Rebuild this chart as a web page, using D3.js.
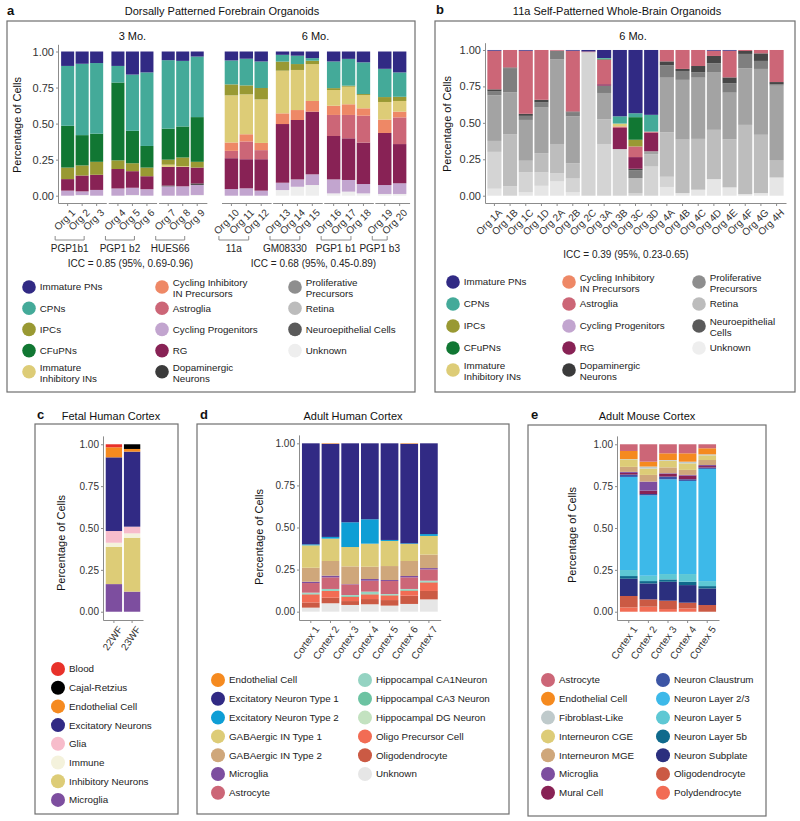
<!DOCTYPE html>
<html>
<head>
<meta charset="utf-8">
<script src="https://cdn.jsdelivr.net/npm/d3@7"></script>
<style>
  body { margin: 0; background: #fff; }
  svg { font-family: "Liberation Sans", Arial, Helvetica, sans-serif; }
</style>
</head>
<body>
<svg width="800" height="821"></svg>
<script>
// ---------- panel a : dorsally patterned forebrain organoids ----------
var aBars = ["Org 1", "Org 2", "Org 3", "Org 4", "Org 5", "Org 6", "Org 7", "Org 8", "Org 9", "Org 10",
  "Org 11", "Org 12", "Org 13", "Org 14", "Org 15", "Org 16", "Org 17", "Org 18", "Org 19", "Org 20"];
var aGroups = ["PGP1b1", "PGP1 b2", "HUES66", "11a", "GM08330", "PGP1 b1", "PGP1 b3"];
var aGroupSizes = [3, 3, 3, 3, 3, 3, 2];
var aFacets = ["3 Mo.", "6 Mo."];
var aFacetGroups = [3, 4];
var aIcc = ["ICC = 0.85 (95%, 0.69-0.96)", "ICC = 0.68 (95%, 0.45-0.89)"];
// stack order, top to bottom
var aSeries = ["Immature PNs", "CPNs", "CFuPNs", "IPCs", "Immature Inhibitory INs", "Cycling Inhibitory IN Precursors",
  "Astroglia", "RG", "Dopaminergic Neurons", "Cycling Progenitors", "Unknown"];
var aValues = [
  [0.100, 0.415, 0.290, 0.080, 0, 0, 0, 0.080, 0, 0.035, 0],
  [0.085, 0.495, 0.210, 0.070, 0, 0, 0, 0.110, 0, 0.025, 0.005],
  [0.080, 0.490, 0.195, 0.090, 0, 0, 0, 0.105, 0, 0.040, 0],
  [0.100, 0.115, 0.540, 0.060, 0, 0, 0, 0.135, 0, 0.050, 0],
  [0.160, 0.390, 0.225, 0.055, 0, 0, 0, 0.115, 0, 0.050, 0.005],
  [0.145, 0.510, 0.150, 0.060, 0, 0, 0, 0.090, 0, 0.045, 0],
  [0.060, 0.475, 0.215, 0.035, 0.015, 0, 0, 0.130, 0.005, 0.065, 0],
  [0.065, 0.455, 0.215, 0.060, 0.005, 0, 0, 0.135, 0, 0.065, 0],
  [0.035, 0.420, 0.310, 0.040, 0, 0, 0, 0.110, 0.010, 0.070, 0.005],
  [0.062, 0.166, 0, 0.076, 0.327, 0.058, 0.051, 0.214, 0, 0.046, 0],
  [0.050, 0.185, 0, 0.062, 0.277, 0.050, 0.123, 0.202, 0, 0.051, 0],
  [0.069, 0.184, 0, 0.079, 0.302, 0.050, 0.063, 0.218, 0, 0.035, 0],
  [0.023, 0.047, 0, 0.063, 0.296, 0.074, 0, 0.407, 0, 0.051, 0.039],
  [0.029, 0.058, 0, 0.041, 0.278, 0.069, 0, 0.412, 0, 0.051, 0.062],
  [0.046, 0.018, 0, 0.023, 0.256, 0.074, 0, 0.435, 0, 0.074, 0.074],
  [0.069, 0.185, 0, 0.013, 0.109, 0.064, 0.146, 0.301, 0, 0.097, 0.016],
  [0.051, 0.186, 0, 0.007, 0.122, 0.074, 0.162, 0.289, 0, 0.081, 0.028],
  [0.075, 0.220, 0, 0.007, 0.092, 0.051, 0.187, 0.287, 0, 0.065, 0.016],
  [0.120, 0.196, 0, 0.034, 0.122, 0.093, 0, 0.361, 0, 0.062, 0.012],
  [0.145, 0.169, 0, 0.029, 0.074, 0.040, 0.185, 0.272, 0, 0.074, 0.012]
];
// legend shared by a and b
var orgNames = ["Immature PNs", "CPNs", "IPCs", "CFuPNs", "Immature Inhibitory INs", "Cycling Inhibitory IN Precursors",
  "Astroglia", "Cycling Progenitors", "RG", "Dopaminergic Neurons", "Proliferative Precursors", "Retina",
  "Neuroepithelial Cells", "Unknown"];
var orgColors = ["#312a84", "#44aa99", "#999933", "#117733", "#ddcc77", "#ee8866", "#cc6677", "#c2a5cf",
  "#882255", "#3b3b3b", "#8e8e8e", "#bcbcbc", "#5a5a5a", "#eeeeee"];
var aLegendLabels = ["Immature PNs", "CPNs", "IPCs", "CFuPNs", "Immature|Inhibitory INs", "Cycling Inhibitory|IN Precursors",
  "Astroglia", "Cycling Progenitors", "RG", "Dopaminergic|Neurons", "Proliferative|Precursors", "Retina",
  "Neuroepithelial Cells", "Unknown"];
var bLegendLabels = ["Immature PNs", "CPNs", "IPCs", "CFuPNs", "Immature|Inhibitory INs", "Cycling Inhibitory|IN Precursors",
  "Astroglia", "Cycling Progenitors", "RG", "Dopaminergic|Neurons", "Proliferative|Precursors", "Retina",
  "Neuroepithelial|Cells", "Unknown"];

// ---------- panel b : 11a self-patterned whole-brain organoids ----------
var bBars = ["Org 1A", "Org 1B", "Org 1C", "Org 1D", "Org 2A", "Org 2B", "Org 2C", "Org 3A", "Org 3B",
  "Org 3C", "Org 3D", "Org 4A", "Org 4B", "Org 4C", "Org 4D", "Org 4E", "Org 4F", "Org 4G", "Org 4H"];
var bSeries = ["Immature PNs", "CPNs", "CFuPNs", "IPCs", "Immature Inhibitory INs", "Astroglia", "RG",
  "Grey 1", "Grey 2", "Grey 3", "Grey 4", "Grey 5", "Grey 6"];
var bColors = ["#312a84", "#44aa99", "#117733", "#999933", "#ddcc77", "#cc6677", "#882255",
  "#474747", "#7f7f7f", "#a3a3a3", "#bdbdbd", "#d4d4d4", "#e6e6e6"];
var bValues = [
  [0.005, 0, 0, 0, 0, 0.265, 0, 0.012, 0.029, 0.313, 0.075, 0.253, 0.048],
  [0, 0, 0, 0, 0, 0.120, 0, 0.005, 0.165, 0.290, 0.355, 0.065, 0],
  [0.005, 0, 0, 0, 0, 0.433, 0, 0.014, 0.028, 0.280, 0.080, 0.137, 0.023],
  [0, 0, 0, 0, 0, 0.342, 0, 0.018, 0.035, 0.313, 0.132, 0.092, 0.068],
  [0, 0, 0, 0, 0, 0.005, 0, 0, 0.060, 0.580, 0.200, 0.057, 0.098],
  [0.005, 0, 0, 0, 0, 0.417, 0, 0.006, 0.027, 0.323, 0.104, 0.093, 0.025],
  [0.010, 0, 0, 0, 0, 0.005, 0, 0, 0, 0, 0, 0.985, 0],
  [0.055, 0.005, 0.005, 0, 0, 0.170, 0.010, 0, 0.050, 0.180, 0.170, 0.355, 0],
  [0.455, 0.050, 0, 0, 0.020, 0.010, 0.145, 0, 0, 0, 0, 0.320, 0],
  [0.434, 0.027, 0.155, 0.046, 0, 0.073, 0.080, 0.011, 0.053, 0, 0.103, 0.018, 0],
  [0.445, 0.115, 0, 0, 0, 0.008, 0.127, 0, 0, 0.020, 0.085, 0.200, 0],
  [0, 0, 0, 0, 0, 0.078, 0, 0.027, 0.085, 0.375, 0.305, 0.070, 0.060],
  [0, 0, 0, 0, 0, 0.130, 0, 0.014, 0.061, 0.410, 0.367, 0, 0.018],
  [0, 0, 0, 0, 0, 0.110, 0, 0.043, 0.037, 0.420, 0.349, 0, 0.041],
  [0.005, 0, 0, 0, 0, 0.036, 0, 0.050, 0.064, 0.393, 0.338, 0, 0.114],
  [0.005, 0, 0, 0, 0, 0.183, 0, 0.041, 0.064, 0.320, 0.330, 0, 0.057],
  [0, 0, 0, 0, 0, 0.007, 0, 0.020, 0.099, 0.388, 0.475, 0, 0.011],
  [0, 0, 0, 0, 0, 0.023, 0, 0.052, 0.055, 0.452, 0.400, 0, 0.018],
  [0, 0, 0, 0, 0, 0.220, 0, 0.015, 0.010, 0.510, 0.120, 0, 0.125]
];
var bIcc = "ICC = 0.39 (95%, 0.23-0.65)";

// ---------- panel c : fetal human cortex ----------
var cBars = ["22WF", "23WF"];
var cSeries = ["Blood", "Cajal-Retzius", "Endothelial Cell", "Excitatory Neurons", "Glia", "Immune",
  "Inhibitory Neurons", "Microglia"];
var cColors = ["#e8312a", "#000000", "#f58a1f", "#312a84", "#f7bccb", "#f4f2dc", "#ddcc77", "#7d4e9f"];
var cValues = [
  [0.018, 0, 0.060, 0.440, 0.070, 0.024, 0.223, 0.165],
  [0, 0.028, 0.016, 0.448, 0.040, 0.026, 0.322, 0.120]
];

// ---------- panel d : adult human cortex ----------
var dBars = ["Cortex 1", "Cortex 2", "Cortex 3", "Cortex 4", "Cortex 5", "Cortex 6", "Cortex 7"];
var dSeries = ["Endothelial Cell", "Excitatory Neuron Type 1", "Excitatory Neuron Type 2", "GABAergic IN Type 1",
  "GABAergic IN Type 2", "Microglia", "Astrocyte", "Hippocampal CA1Neuron", "Hippocampal CA3 Neuron",
  "Hippocampal DG Neuron", "Oligo Precursor Cell", "Oligodendrocyte", "Unknown"];
var dColors = ["#f58a1f", "#312a84", "#0e9ed5", "#ddcc77", "#cfa77b", "#7d4e9f", "#cc6677", "#94d3c2",
  "#6cc3a2", "#c3e2c0", "#f26c54", "#cb5a44", "#e6e6e6"];
var dValues = [
  [0, 0.600, 0.006, 0.133, 0.083, 0.008, 0.057, 0.005, 0.005, 0, 0.048, 0.031, 0.024],
  [0.003, 0.553, 0.010, 0.133, 0.087, 0.010, 0.069, 0.012, 0, 0, 0.040, 0.033, 0.050],
  [0, 0.469, 0.147, 0.115, 0.105, 0.002, 0.063, 0.005, 0.005, 0, 0.026, 0.023, 0.040],
  [0, 0.451, 0.145, 0.137, 0.073, 0.010, 0.065, 0.010, 0.006, 0, 0.028, 0.031, 0.044],
  [0, 0.574, 0.006, 0.149, 0.083, 0.006, 0.077, 0.004, 0.004, 0, 0.028, 0.033, 0.036],
  [0.003, 0.591, 0.004, 0.101, 0.089, 0.008, 0.069, 0.005, 0.005, 0, 0.030, 0.049, 0.046],
  [0, 0.539, 0.011, 0.111, 0.080, 0.008, 0.067, 0.005, 0.005, 0, 0.051, 0.050, 0.073]
];

// ---------- panel e : adult mouse cortex ----------
var eBars = ["Cortex 1", "Cortex 2", "Cortex 3", "Cortex 4", "Cortex 5"];
var eSeries = ["Astrocyte", "Endothelial Cell", "Fibroblast-Like", "Interneuron CGE", "Interneuron MGE",
  "Microglia", "Mural Cell", "Neuron Claustrum", "Neuron Layer 2/3", "Neuron Layer 5", "Neuron Layer 5b",
  "Neuron Subplate", "Oligodendrocyte", "Polydendrocyte"];
var eColors = ["#cc6677", "#f58a1f", "#bfcacb", "#ddcc77", "#cfa77b", "#7d4e9f", "#882255", "#3c55a5",
  "#3db9e9", "#5ec8d4", "#0f6a8c", "#2b2f7e", "#cb5a44", "#f26c54"];
var eValues = [
  [0.040, 0.048, 0.002, 0.045, 0.030, 0.006, 0.010, 0.014, 0.556, 0.036, 0.016, 0.103, 0.068, 0.026],
  [0.104, 0.029, 0.012, 0.038, 0.040, 0.054, 0.020, 0.008, 0.480, 0.032, 0.014, 0.095, 0.044, 0.030],
  [0.054, 0.040, 0.004, 0.040, 0.035, 0.004, 0.016, 0.016, 0.566, 0.032, 0.014, 0.113, 0.050, 0.016],
  [0.054, 0.050, 0.010, 0.039, 0.030, 0.004, 0.022, 0.010, 0.556, 0.046, 0.020, 0.105, 0.034, 0.020],
  [0.024, 0.036, 0.006, 0.028, 0.030, 0.006, 0.009, 0.008, 0.670, 0.030, 0.014, 0.099, 0.040, 0]
];

var yTicks = [0, 0.25, 0.5, 0.75, 1];

var svg = d3.select("svg");
var axisGrey = "#8c8c8c";

function box(x0, y0, x1, y1) {
  svg.append("rect").attr("x", x0).attr("y", y0).attr("width", x1 - x0).attr("height", y1 - y0)
    .attr("fill", "none").attr("stroke", "#6f6f6f").attr("stroke-width", 1.2);
}

function label(x, y, t, size, opts) {
  opts = opts || {};
  return svg.append("text").attr("x", x).attr("y", y).text(t)
    .style("font-size", size + "px")
    .style("font-weight", opts.bold ? "bold" : null)
    .attr("text-anchor", opts.anchor || "middle")
    .attr("fill", opts.fill || "#111");
}

function yTitle(x, y) {
  svg.append("text").attr("transform", "translate(" + x + "," + y + ") rotate(-90)")
    .attr("text-anchor", "middle").attr("dy", "0.35em")
    .style("font-size", "11px").attr("fill", "#111").text("Percentage of Cells");
}

function styleAxis(g, fs) {
  g.attr("font-family", null).attr("font-size", null);
  g.select(".domain").attr("stroke", axisGrey);
  g.selectAll(".tick line").attr("stroke", axisGrey);
  g.selectAll(".tick text").attr("fill", "#333").style("font-size", fs + "px");
}

function drawYAxis(x0, y, fs) {
  var g = svg.append("g").attr("transform", "translate(" + x0 + ",0)")
    .call(d3.axisLeft(y).tickValues(yTicks).tickFormat(d3.format(".2f")).tickSize(2).tickPadding(2).tickSizeOuter(0));
  styleAxis(g, fs);
}

function drawXAxis(x, y0, angle, fs) {
  var g = svg.append("g").attr("transform", "translate(0," + y0 + ")")
    .call(d3.axisBottom(x).tickSize(3).tickSizeOuter(0));
  styleAxis(g, fs);
  g.selectAll(".tick text").attr("x", 0).attr("y", 0).attr("dy", "0.75em")
    .attr("transform", "translate(3,5) rotate(" + (-angle) + ")")
    .style("text-anchor", "end");
}

// stacked bars; series are listed top to bottom, so stack them reversed
function stackBars(bars, series, values, colors, x, y) {
  var rows = bars.map(function (b, i) {
    var r = { bar: b };
    series.forEach(function (s, j) { r[s] = values[i][j]; });
    return r;
  });
  var layers = d3.stack().keys(series.slice().reverse())(rows);
  svg.append("g").selectAll("g").data(layers).enter().append("g")
    .attr("fill", function (d) { return colors[series.indexOf(d.key)]; })
    .selectAll("rect").data(function (d) { return d; }).enter().append("rect")
    .attr("x", function (d) { return x(d.data.bar); })
    .attr("y", function (d) { return y(d[1]); })
    .attr("width", x.bandwidth())
    .attr("height", function (d) { return Math.max(0, y(d[0]) - y(d[1])); });
}

function legend(labels, colors, colX, perCol, y0, dy, r, fs) {
  var g = svg.append("g");
  labels.forEach(function (lab, i) {
    var cx = colX[Math.floor(i / perCol)], cy = y0 + (i % perCol) * dy;
    g.append("circle").attr("cx", cx).attr("cy", cy).attr("r", r).attr("fill", colors[i]);
    var lines = lab.split("|");
    var t = g.append("text").style("font-size", fs + "px").attr("fill", "#222");
    lines.forEach(function (ln, k) {
      t.append("tspan").attr("x", cx + r + 4)
        .attr("y", cy + (k - (lines.length - 1) / 2) * fs * 1.08 + (lines.length > 1 ? 1 : 0))
        .attr("dy", "0.35em").text(ln);
    });
  });
}

// ================= panel a =================
box(7, 21, 415, 392);
label(7, 15, "a", 13, { bold: true, anchor: "start" });
label(222, 15, "Dorsally Patterned Forebrain Organoids", 11);

var yA = d3.scaleLinear().domain([-0.05, 1.05]).range([202.9, 44.3]);
var aColorOf = aSeries.map(function (s) { return orgColors[orgNames.indexOf(s)]; });
var facetStart = [58, 221.5], facetStep = [14.5, 14.9], facetGap = [2, 1.5];
var gi = 0, bi = 0;
aFacets.forEach(function (facet, f) {
  var cursor = facetStart[f];
  for (var k = 0; k < aFacetGroups[f]; k++, gi++) {
    var n = aGroupSizes[gi];
    var bars = aBars.slice(bi, bi + n), vals = aValues.slice(bi, bi + n);
    var w = facetStep[f] * (n + 0.33);
    var x = d3.scaleBand().domain(bars).range([cursor, cursor + w]).paddingInner(0.1).paddingOuter(0.215);
    stackBars(bars, aSeries, vals, aColorOf, x, yA);
    drawXAxis(x, 203, 45, 10);
    // bracket under the organoid labels
    var bx0 = x(bars[0]) + x.bandwidth() / 2 - 12.5, bx1 = x(bars[n - 1]) + x.bandwidth() / 2 - 12.5;
    svg.append("path").attr("d", "M" + bx0 + ",236V240H" + bx1 + "V236")
      .attr("fill", "none").attr("stroke", axisGrey).attr("stroke-width", 1);
    label((bx0 + bx1) / 2, 252, aGroups[gi], 10, { fill: "#222" });
    cursor += w + facetGap[f];
    bi += n;
  }
  var fc = (facetStart[f] + cursor - facetGap[f]) / 2;
  label(fc, 40, facet, 11);
  label(fc - 2, 267, aIcc[f], 10, { fill: "#222" });
});
drawYAxis(58, yA, 11);
yTitle(17.5, 125);
legend(aLegendLabels, orgColors, [29, 162, 295], 5, 287, 21.2, 6.8, 9.8);

// ================= panel b =================
box(435, 21, 795, 392);
label(436, 14, "b", 13, { bold: true, anchor: "start" });
label(617, 15, "11a Self-Patterned Whole-Brain Organoids", 11);
var yB = d3.scaleLinear().domain([-0.05, 1.05]).range([203, 42.7]);
var xB = d3.scaleBand().domain(bBars).range([485, 786]).paddingInner(0.1).paddingOuter(0.15);
stackBars(bBars, bSeries, bValues, bColors, xB, yB);
drawXAxis(xB, 203, 45, 10);
drawYAxis(485, yB, 11);
yTitle(447.5, 124);
label(633, 40, "6 Mo.", 11);
label(626, 258, bIcc, 10, { fill: "#222" });
legend(bLegendLabels, orgColors, [453, 569, 699], 5, 282, 22, 6.8, 9.8);

// ================= panel c =================
box(35, 424, 178, 814);
label(37, 419, "c", 13, { bold: true, anchor: "start" });
label(111, 420, "Fetal Human Cortex", 11);
var yC = d3.scaleLinear().domain([-0.05, 1.05]).range([620.1, 435.9]);
var xC = d3.scaleBand().domain(cBars).range([103, 143]).paddingInner(0.1).paddingOuter(0.15);
stackBars(cBars, cSeries, cValues, cColors, xC, yC);
drawXAxis(xC, 620, 55, 10);
drawYAxis(103, yC, 10);
yTitle(61, 543);
legend(cSeries, cColors, [58], 8, 669, 18.7, 7, 9.8);

// ================= panel d =================
box(197, 424, 509, 814);
label(200, 419, "d", 13, { bold: true, anchor: "start" });
label(353, 420, "Adult Human Cortex", 11);
var yD = d3.scaleLinear().domain([-0.05, 1.05]).range([620.1, 434.9]);
var xD = d3.scaleBand().domain(dBars).range([299, 440.7]).paddingInner(0.1).paddingOuter(0.15);
stackBars(dBars, dSeries, dValues, dColors, xD, yD);
drawXAxis(xD, 620, 55, 10);
drawYAxis(299, yD, 10);
yTitle(259.5, 537);
legend(dSeries, dColors, [218, 365], 7, 680, 18.8, 7, 9.8);

// ================= panel e =================
box(528, 425, 766, 816);
label(531, 419, "e", 13, { bold: true, anchor: "start" });
label(647, 420, "Adult Mouse Cortex", 11);
var yE = d3.scaleLinear().domain([-0.05, 1.05]).range([620.1, 435.9]);
var xE = d3.scaleBand().domain(eBars).range([617, 719]).paddingInner(0.1).paddingOuter(0.15);
stackBars(eBars, eSeries, eValues, eColors, xE, yE);
drawXAxis(xE, 620, 55, 10);
drawYAxis(617, yE, 10);
yTitle(572, 535);
legend(eSeries, eColors, [548, 663], 7, 680, 18.8, 7, 9.8);
</script>
</body>
</html>
